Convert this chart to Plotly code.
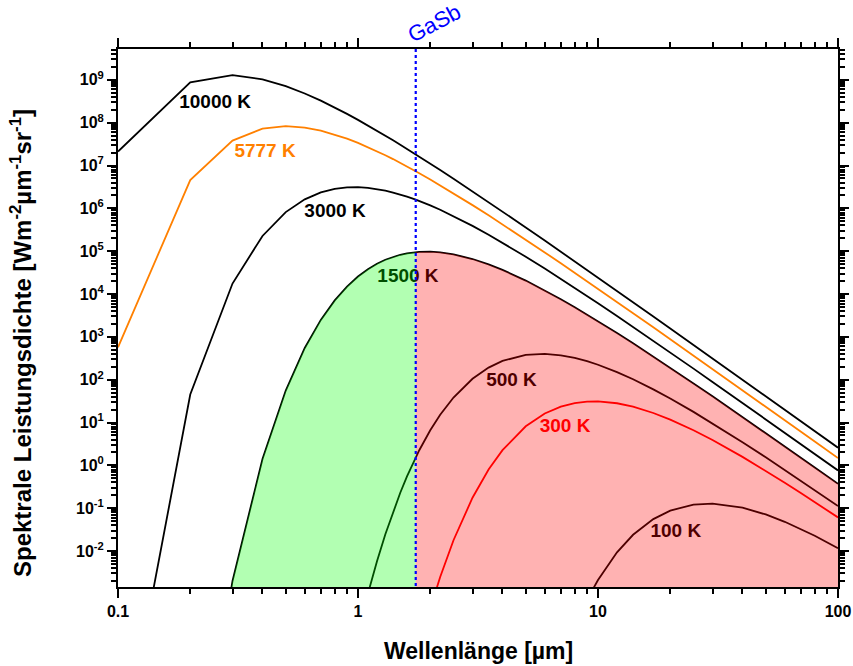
import math
import plotly.graph_objects as go

# Wavelength grid in µm (0.1 µm steps in the near UV/visible, coarser in the IR)
WAVELENGTH = [0.1, 0.2, 0.3, 0.4, 0.5, 0.6, 0.7, 0.8, 0.9, 1.0,
              1.1, 1.2, 1.3, 1.4, 1.5, 1.6, 1.74, 1.8, 2.0, 2.2,
              2.5, 3, 3.5, 4, 5, 6, 7, 8, 9, 10,
              12, 14, 17, 20, 25, 30, 40, 50, 60, 70, 80, 100]

# Spectral power density of a black body in W m^-2 µm^-1 sr^-1
T10000 = [2.11e7, 8.79e8, 1.283e9, 1.030e9, 7.14e8, 4.81e8, 3.27e8, 2.265e8, 1.606e8, 1.164e8,
          8.61e7, 6.49e7, 4.98e7, 3.88e7, 3.06e7, 2.448e7, 1.824e7, 1.618e7, 1.110e7, 7.86e6,
          4.93e6, 2.502e6, 1.401e6, 8.44e5, 3.59e5, 1.775e5, 9.76e4, 5.80e4, 3.66e4, 2.418e4,
          1.181e4, 6.43e3, 2.983e3, 1.568e3, 647, 313.4, 99.8, 41.0, 19.83, 10.72, 6.29, 2.58]
T5777 = [571, 4.57e6, 3.82e7, 7.24e7, 8.28e7, 7.70e7, 6.53e7, 5.31e7, 4.25e7, 3.38e7,
         2.694e7, 2.158e7, 1.740e7, 1.413e7, 1.156e7, 9.53e6, 7.37e6, 6.62e6, 4.73e6, 3.45e6,
         2.243e6, 1.190e6, 6.87e5, 4.23e5, 1.855e5, 9.35e4, 5.21e4, 3.127e4, 1.988e4, 1.323e4,
         6.52e3, 3.573e3, 1.670e3, 881, 366, 177.8, 56.9, 23.4, 11.35, 6.15, 3.61, 1.484]
T3000 = [5.55e-8, 45.0, 1.755e4, 2.268e5, 8.17e5, 1.625e6, 2.358e6, 2.852e6, 3.088e6, 3.118e6,
         3.008e6, 2.815e6, 2.584e6, 2.339e6, 2.099e6, 1.875e6, 1.591e6, 1.482e6, 1.169e6, 9.25e5,
         6.59e5, 3.90e5, 2.426e5, 1.577e5, 7.44e4, 3.93e4, 2.262e4, 1.390e4, 9.01e3, 6.08e3,
         3.060e3, 1.702e3, 808, 431.4, 181.2, 88.8, 28.7, 11.89, 5.78, 3.14, 1.849, 0.762]
T1500 = [8.2e-29, 1.73e-9, 2.00e-3, 1.407, 55.8, 549, 2.491e3, 7.09e3, 1.491e4, 2.555e4,
         3.794e4, 5.08e4, 6.30e4, 7.37e4, 8.25e4, 8.91e4, 9.51e4, 9.65e4, 9.74e4, 9.40e4,
         8.45e4, 6.56e4, 4.91e4, 3.654e4, 2.061e4, 1.219e4, 7.58e3, 4.93e3, 3.331e3, 2.324e3,
         1.229e3, 707, 347.6, 190.0, 81.9, 40.9, 13.48, 5.66, 2.776, 1.516, 0.896, 0.3717]
T500 = [None, None, None, None, None, None, None, 2.73e-7, 8.2e-6, 1.19e-4,
        1.011e-3, 5.79e-3, 0.02455, 0.0823, 0.2296, 0.5516, 1.541, 2.258, 6.60, 15.15,
        38.4, 105.1, 191.5, 274.7, 380.2, 400.9, 371.1, 321.7, 270.0, 223.1,
        150.4, 102.1, 59.4, 36.4, 17.73, 9.56, 3.470, 1.539, 0.782, 0.438, 0.2638, 0.1122]
T300 = [None, None, None, None, None, None, None, None, None, None,
        None, None, None, None, 6.4e-7, 3.42e-6, 2.51e-5, 5.31e-5, 4.50e-4, 2.474e-3,
        0.01786, 0.1756, 0.797, 2.268, 8.17, 16.25, 23.58, 28.52, 30.88, 31.18,
        28.15, 23.39, 16.69, 11.69, 6.59, 3.90, 1.577, 0.744, 0.3933, 0.2262, 0.1390, 0.0608]
T100 = [None, None, None, None, None, None, None, None, None, None,
        None, None, None, None, None, None, None, None, None, None,
        None, None, None, None, 3.8e-8, 1.85e-6, 2.63e-5, 1.765e-4, 7.23e-4, 2.112e-3,
        9.33e-3, 0.02394, 0.05565, 0.0879, 0.1217, 0.1283, 0.1029, 0.0714, 0.0481, 0.0327, 0.02266, 0.01165]

# GaSb absorption edge in µm
GASB_EDGE = 1.74

# Curve labels: text, wavelength position, value position
LABEL_TEXT = ["10000 K", "5777 K", "3000 K", "1500 K", "500 K", "300 K", "100 K"]
LABEL_X = [0.254, 0.41, 0.802, 1.615, 4.36, 7.29, 21.1]
LABEL_Y = [2.9e8, 2.08e7, 8.0e5, 2.43e4, 92.7, 7.6, 0.0275]

X_DECADES = [-1, 0, 1, 2]
X_TICK_TEXT = ["0.1", "1", "10", "100"]
Y_EXPONENTS = list(range(-3, 10))
Y_LABELLED = list(range(-2, 10))

BLACK = "#000000"
ORANGE = "#FF8000"
RED = "#FF0000"
BLUE = "#0000FF"
FONT = "Liberation Sans, Arial, sans-serif"
FLOOR = 1e-8   # below the visible range, closes the filled areas
CEIL = 1e12


def minor_positions(exponents):
    return [d * 10.0 ** e for e in exponents for d in range(2, 10)]


series = [
    (T10000, BLACK), (T5777, ORANGE), (T3000, BLACK), (T1500, BLACK),
    (T500, BLACK), (T300, RED), (T100, BLACK),
]
label_colors = [BLACK, ORANGE, BLACK, BLACK, BLACK, RED, BLACK]

fig = go.Figure()

for values, color in series:
    fig.add_trace(go.Scatter(
        x=WAVELENGTH, y=values, mode="lines",
        line=dict(color=color, width=1.8), hoverinfo="skip", showlegend=False,
    ))

# labels sit beneath the translucent areas so they take on their tint
fig.add_trace(go.Scatter(
    x=LABEL_X, y=LABEL_Y, mode="text", text=LABEL_TEXT,
    textposition="middle center",
    textfont=dict(family=FONT, size=19, color=label_colors, weight="bold"),
    hoverinfo="skip", showlegend=False,
))

# area under the 1500 K curve, split at the GaSb edge
left = [(w, v) for w, v in zip(WAVELENGTH, T1500) if w <= GASB_EDGE]
right = [(w, v) for w, v in zip(WAVELENGTH, T1500) if w >= GASB_EDGE]

fig.add_trace(go.Scatter(
    x=[p[0] for p in left] + [GASB_EDGE, left[0][0]],
    y=[p[1] for p in left] + [FLOOR, FLOOR],
    mode="lines", line=dict(width=0), fill="toself",
    fillcolor="rgba(0,255,0,0.3)", hoverinfo="skip", showlegend=False,
))
fig.add_trace(go.Scatter(
    x=[p[0] for p in right] + [right[-1][0], GASB_EDGE],
    y=[p[1] for p in right] + [FLOOR, FLOOR],
    mode="lines", line=dict(width=0), fill="toself",
    fillcolor="rgba(255,0,0,0.3)", hoverinfo="skip", showlegend=False,
))

# GaSb edge marker
fig.add_trace(go.Scatter(
    x=[GASB_EDGE, GASB_EDGE], y=[FLOOR, CEIL], mode="lines",
    line=dict(color=BLUE, width=2.2, dash="dot"),
    hoverinfo="skip", showlegend=False,
))

fig.add_annotation(
    x=math.log10(GASB_EDGE), y=1, xref="x", yref="paper",
    text="GaSb", showarrow=False, textangle=-28,
    xanchor="center", yanchor="middle", xshift=18, yshift=26,
    font=dict(family=FONT, size=22, color=BLUE),
)

# axis titles
fig.add_annotation(
    x=0.5, y=0, xref="paper", yref="paper",
    text="<b>Wellenlänge [µm]</b>", showarrow=False,
    xanchor="center", yanchor="middle", yshift=-64,
    font=dict(family=FONT, size=23, color=BLACK),
)
fig.add_annotation(
    x=0, y=0.5, xref="paper", yref="paper",
    text="<b>Spektrale Leistungsdichte [Wm<sup>-2</sup>µm<sup>-1</sup>sr<sup>-1</sup>]</b>",
    showarrow=False, textangle=-90,
    xanchor="center", yanchor="middle", xshift=-97, yshift=-25,
    font=dict(family=FONT, size=24, color=BLACK),
)

axis_common = dict(
    showgrid=False, zeroline=False,
    showline=True, linecolor=BLACK, linewidth=2, mirror="allticks",
    ticks="outside", ticklen=9, tickwidth=2, tickcolor=BLACK,
    automargin=False,
)

fig.update_xaxes(
    type="log", range=[-1, 2],
    tickmode="array", tickvals=[10.0 ** e for e in X_DECADES], ticktext=X_TICK_TEXT,
    tickfont=dict(family=FONT, size=16, color=BLACK, weight="bold"),
    minor=dict(tickmode="array", tickvals=minor_positions(X_DECADES),
               ticks="outside", ticklen=5, tickwidth=1.5, tickcolor=BLACK, showgrid=False),
    **axis_common,
)
fig.update_yaxes(
    type="log", range=[-2.84, 9.72],
    tickmode="array", tickvals=[10.0 ** e for e in Y_LABELLED],
    ticktext=[f"10<sup>{e}</sup>" for e in Y_LABELLED],
    tickfont=dict(family=FONT, size=16, color=BLACK, weight="bold"),
    minor=dict(tickmode="array", tickvals=minor_positions(Y_EXPONENTS),
               ticks="outside", ticklen=5, tickwidth=1.5, tickcolor=BLACK, showgrid=False),
    **axis_common,
)

fig.update_layout(
    width=853, height=666,
    margin=dict(l=118, r=15, t=49, b=79),
    paper_bgcolor="white", plot_bgcolor="white",
    showlegend=False,
)

fig.write_html("out.html")
